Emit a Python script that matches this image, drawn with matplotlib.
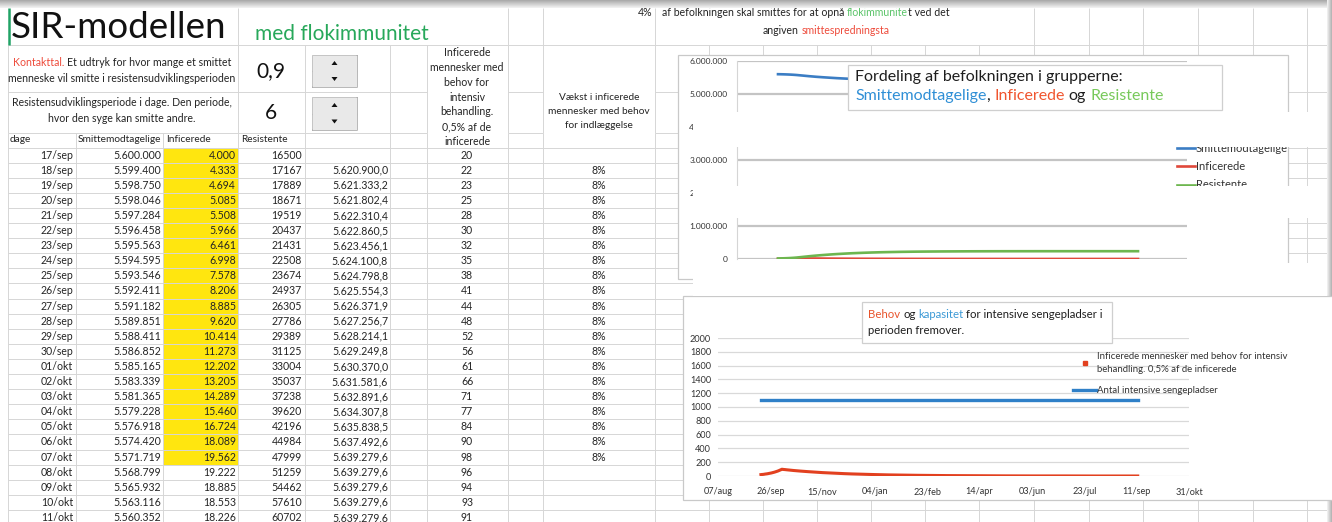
import datetime as dt
import numpy as np
import matplotlib
matplotlib.use('Agg')
import matplotlib.pyplot as plt
from matplotlib.patches import Rectangle, Polygon
from matplotlib.lines import Line2D
from matplotlib.ticker import FuncFormatter

plt.rcParams['font.family'] = ['Lato', 'DejaVu Sans']

W, H, DPI = 1332, 522, 100

# ---------------- table data (read from the sheet) ----------------
dage = ['17/sep', '18/sep', '19/sep', '20/sep', '21/sep', '22/sep', '23/sep', '24/sep',
        '25/sep', '26/sep', '27/sep', '28/sep', '29/sep', '30/sep', '01/okt', '02/okt',
        '03/okt', '04/okt', '05/okt', '06/okt', '07/okt', '08/okt', '09/okt', '10/okt', '11/okt']
smittemodtagelige = [5600000, 5599400, 5598750, 5598046, 5597284, 5596458, 5595563, 5594595,
                     5593546, 5592411, 5591182, 5589851, 5588411, 5586852, 5585165, 5583339,
                     5581365, 5579228, 5576918, 5574420, 5571719, 5568799, 5565932, 5563116, 5560352]
inficerede = [4000, 4333, 4694, 5085, 5508, 5966, 6461, 6998, 7578, 8206, 8885, 9620, 10414,
              11273, 12202, 13205, 14289, 15460, 16724, 18089, 19562, 19222, 18885, 18553, 18226]
resistente = [16500, 17167, 17889, 18671, 19519, 20437, 21431, 22508, 23674, 24937, 26305,
              27786, 29389, 31125, 33004, 35037, 37238, 39620, 42196, 44984, 47999, 51259,
              54462, 57610, 60702]
total = [None, 5620900.0, 5621333.2, 5621802.4, 5622310.4, 5622860.5, 5623456.1, 5624100.8,
         5624798.8, 5625554.3, 5626371.9, 5627256.7, 5628214.1, 5629249.8, 5630370.0,
         5631581.6, 5632891.6, 5634307.8, 5635838.5, 5637492.6, 5639279.6, 5639279.6,
         5639279.6, 5639279.6, 5639279.6]
intensiv = [20, 22, 23, 25, 28, 30, 32, 35, 38, 41, 44, 48, 52, 56, 61, 66, 71, 77, 84, 90,
            98, 96, 94, 93, 91]
vaekst = ['', '8%', '8%', '8%', '8%', '8%', '8%', '8%', '8%', '8%', '8%', '8%', '8%', '8%',
          '8%', '8%', '8%', '8%', '8%', '8%', '8%', '', '', '', '']

# ---------------- chart data beyond the table ----------------
extra_dates = ['2020-10-18', '2020-10-25', '2020-11-01', '2020-11-08', '2020-11-15',
               '2020-11-22', '2020-11-29', '2020-12-06', '2020-12-13', '2020-12-20',
               '2020-12-27', '2021-01-03', '2021-01-17', '2021-01-31', '2021-02-14',
               '2021-02-28', '2021-03-14', '2021-03-28', '2021-04-11', '2021-04-25',
               '2021-05-09', '2021-06-06', '2021-07-04', '2021-08-01', '2021-08-29', '2021-09-12']
intensiv_extra = [80, 71, 63, 56, 49, 44, 39, 34, 30, 27, 24, 21, 16, 13, 10, 8, 6, 5, 4, 3,
                  2, 1, 1, 0, 0, 0]
inficerede_extra = [16000, 14200, 12600, 11200, 9800, 8800, 7800, 6800, 6000, 5400, 4800, 4200,
                    3200, 2600, 2000, 1600, 1200, 1000, 800, 600, 400, 200, 200, 0, 0, 0]
resistente_extra = [83000, 103000, 120000, 136000, 150000, 162000, 173000, 182000, 190000,
                    197000, 203000, 208000, 216000, 222000, 226000, 229000, 231000, 233000,
                    234000, 235000, 235500, 236000, 236000, 236000, 236000, 236000]
smittemodt_extra = [5540000, 5522000, 5507000, 5493000, 5480000, 5469000, 5459000, 5451000,
                    5444000, 5438000, 5432000, 5428000, 5421000, 5415000, 5412000, 5409000,
                    5408000, 5406000, 5405000, 5404000, 5404000, 5404000, 5404000, 5404000,
                    5404000, 5404000]
kapasitet_dates = ['2020-09-17', '2021-09-12']
kapasitet = [1100, 1100]
x_range = ['2020-08-07', '2021-10-31']
x_tick_labels = ['07/aug', '26/sep', '15/nov', '04/jan', '23/feb', '14/apr', '03/jun',
                 '23/jul', '11/sep', '31/okt']

# ---------------- helpers ----------------
MONTHS = {'aug': 8, 'sep': 9, 'okt': 10, 'nov': 11, 'dec': 12}
table_dates = [dt.date(2020, MONTHS[d[3:]], int(d[:2])) for d in dage]
extra_d = [dt.date.fromisoformat(s) for s in extra_dates]
dates_all = table_dates + extra_d
S_all = smittemodtagelige + smittemodt_extra
I_all = inficerede + inficerede_extra
R_all = resistente + resistente_extra
ICU_all = intensiv + intensiv_extra
kap_d = [dt.date.fromisoformat(s) for s in kapasitet_dates]
x0d, x1d = [dt.date.fromisoformat(s) for s in x_range]
tick_dates = [x0d + dt.timedelta(days=50 * i) for i in range(len(x_tick_labels))]


def fmt_int(v):
    return f"{v:,}".replace(',', '.')


def fmt_dec(v):
    return f"{v:,.1f}".replace(',', 'X').replace('.', ',').replace('X', '.')


DARK = '#242424'
GRID = '#d6d6d6'
BLUE = '#3b7dc4'
RED = '#e0483a'
GREEN = '#6db64f'
SMALL = 7.6
TFS = 7.6

fig = plt.figure(figsize=(W / DPI, H / DPI), dpi=DPI)
fig.patch.set_facecolor('white')
bg = fig.add_axes([0, 0, 1, 1], zorder=0)
bg.set_xlim(0, W)
bg.set_ylim(H, 0)
bg.axis('off')
renderer = fig.canvas.get_renderer()


def text_w(ax, s, **kw):
    t = ax.text(0, 0, s, **kw)
    w = t.get_window_extent(renderer).width
    t.remove()
    return w


def rich(ax, x, y, parts, ha='left', fontsize=7, **kw):
    full = ''.join(s for s, _ in parts)
    ref = text_w(ax, 'x', fontsize=fontsize, **kw)

    def adv(prefix):
        return text_w(ax, prefix + 'x', fontsize=fontsize, **kw) - ref if prefix else 0.0

    tot = text_w(ax, full, fontsize=fontsize, **kw)
    xx = {'left': x, 'center': x - tot / 2, 'right': x - tot}[ha]
    pos = 0
    for s, c in parts:
        lead = len(s) - len(s.lstrip(' '))
        ax.text(xx + adv(full[:pos + lead]), y, s.strip(' '), color=c, fontsize=fontsize,
                ha='left', va='center', **kw)
        pos += len(s)


def vline(x, y0, y1, color=GRID, lw=0.7, ax=bg):
    ax.plot([x, x], [y0, y1], color=color, lw=lw, solid_capstyle='butt')


def hline(y, x0, x1, color=GRID, lw=0.7, ax=bg):
    ax.plot([x0, x1], [y, y], color=color, lw=lw, solid_capstyle='butt')


# ---------------- spreadsheet grid ----------------
ROW0 = 147.5
ROWH = 15.1
right_cols = [709, 763, 817, 871, 925, 979, 1034, 1089, 1143, 1198, 1253, 1307]
for x in [238, 508, 543, 655, 1034, 1089, 1143, 1198, 1253, 1307]:
    vline(x, 8, 45)
for x in [8, 238, 305, 390, 427, 508, 543, 655] + right_cols:
    vline(x, 45, 133)
for x in [8, 76, 163, 238, 305, 390, 427, 508, 543, 655] + right_cols:
    vline(x, 133, H)
hline(45, 8, W - 4)
for y in (92, 133):
    hline(y, 8, 427)
    hline(y, 508, 543)
    hline(y, 655, W - 4)
k = 0
while ROW0 + k * ROWH < H:
    hline(ROW0 + k * ROWH, 8, W - 4)
    k += 1

# yellow column
bg.add_patch(Rectangle((163, ROW0), 75, ROWH * 21, facecolor='#ffe60f', edgecolor='none', zorder=1))

# shadows
top = np.linspace(0.66, 0.95, 20)[:, None]
bg.imshow(np.repeat(top, 2, axis=1), cmap='gray', vmin=0, vmax=1, extent=(0, W, 8, 0),
          aspect='auto', zorder=5)
side = np.linspace(0.95, 0.70, 10)[None, :]
bg.imshow(side, cmap='gray', vmin=0, vmax=1, extent=(W - 5, W, H, 0), aspect='auto', zorder=5)
bg.set_xlim(0, W)
bg.set_ylim(H, 0)
vline(8.5, 8, 45, color='#21a366', lw=1.8)

# ---------------- title texts ----------------
bg.text(11, 27, 'SIR-modellen', fontsize=26.5, color='#111111', va='center', ha='left')
bg.text(255, 34, 'med flokimmunitet', fontsize=15, color='#27a85a', va='center', ha='left')
bg.text(652, 12, '4%', fontsize=SMALL, color=DARK, ha='right', va='center')
rich(bg, 662, 12, [('af befolkningen skal smittes for at opnå ', DARK), ('flokimmunite', '#5cc46a'),
                   ('t ved det', DARK)], ha='left', fontsize=SMALL)
rich(bg, 826, 30, [('angiven ', DARK), ('smittespredningsta', '#ee4b3b')], ha='center',
     fontsize=SMALL)

# description cells
rich(bg, 122, 63, [('Kontakttal.', '#ee4b3b'), (' Et udtryk for hvor mange et smittet', DARK)],
     ha='center', fontsize=SMALL)
bg.text(122, 78, 'menneske vil smitte i resistensudviklingsperioden', fontsize=SMALL, color=DARK,
        ha='center', va='center')
bg.text(122, 103, 'Resistensudviklingsperiode i dage. Den periode,', fontsize=SMALL, color=DARK,
        ha='center', va='center')
bg.text(122, 118, 'hvor den syge kan smitte andre.', fontsize=SMALL, color=DARK,
        ha='center', va='center')
bg.text(271, 71, '0,9', fontsize=15, color='#111111', ha='center', va='center')
bg.text(271, 113, '6', fontsize=15, color='#111111', ha='center', va='center')


def spinner(y0, y1):
    x0, x1 = 312, 357
    ym = (y0 + y1) / 2
    bg.add_patch(Rectangle((x0, y0), x1 - x0, y1 - y0, facecolor='#e9e9e9', edgecolor='#bdbdbd',
                           lw=0.6, zorder=3))
    hline(ym, x0, x1, color='#555555', lw=1.0)
    hline(y1, x0, x1, color='#444444', lw=1.2)
    vline(x1, y0, y1, color='#444444', lw=1.2)
    cx = (x0 + x1) / 2
    bg.add_patch(Polygon([[cx - 3, y0 + 10], [cx + 3, y0 + 10], [cx, y0 + 6]], closed=True,
                         facecolor='#111111', edgecolor='none', zorder=4))
    bg.add_patch(Polygon([[cx - 3, ym + 6], [cx + 3, ym + 6], [cx, ym + 10]], closed=True,
                         facecolor='#111111', edgecolor='none', zorder=4))


spinner(55, 87)
spinner(97, 130)

# column header with stacked lines
icu_head = ['Inficerede', 'mennesker med', 'behov for', 'intensiv', 'behandling.', '0,5% af de',
            'inficerede']
for i, s in enumerate(icu_head):
    bg.text(467, 53 + 14.7 * i, s, fontsize=SMALL, color=DARK, ha='center', va='center')
for i, s in enumerate(['Vækst i inficerede', 'mennesker med behov', 'for indlæggelse']):
    bg.text(599, 97 + 14 * i, s, fontsize=7.3, color=DARK, ha='center', va='center')

for x, s in [(10, 'dage'), (78, 'Smittemodtagelige'), (166, 'Inficerede'), (241, 'Resistente')]:
    bg.text(x, 140, s, fontsize=7.3, color=DARK, ha='left', va='center')

for i in range(len(dage)):
    y = ROW0 + ROWH * (i + 0.5)
    bg.text(73, y, dage[i], fontsize=TFS, color=DARK, ha='right', va='center', zorder=3)
    bg.text(161, y, fmt_int(smittemodtagelige[i]), fontsize=TFS, color=DARK, ha='right',
            va='center', zorder=3)
    bg.text(236, y, fmt_int(inficerede[i]), fontsize=TFS, color=DARK, ha='right', va='center',
            zorder=3)
    bg.text(302, y, str(resistente[i]), fontsize=TFS, color=DARK, ha='right', va='center', zorder=3)
    if total[i] is not None:
        bg.text(388, y, fmt_dec(total[i]), fontsize=TFS, color=DARK, ha='right', va='center',
                zorder=3)
    bg.text(467, y, str(intensiv[i]), fontsize=TFS, color=DARK, ha='center', va='center', zorder=3)
    if vaekst[i]:
        bg.text(599, y, vaekst[i], fontsize=TFS, color=DARK, ha='center', va='center', zorder=3)

# chart frames
bg.add_patch(Rectangle((678, 55), 610, 224, facecolor='white', edgecolor='#c9c9c9', lw=0.9,
                       zorder=6))
bg.add_patch(Rectangle((683, 296), 700, 204, facecolor='white', edgecolor='#c9c9c9', lw=0.9,
                       zorder=6))

# ---------------- top chart ----------------
ax1 = fig.add_axes([737 / W, 1 - 259 / H, 450 / W, 198 / H], zorder=2)
ax1.patch.set_alpha(0)
ax1.plot(dates_all, S_all, color=BLUE, lw=1.9, label='Smittemodtagelige')
ax1.plot(dates_all, I_all, color=RED, lw=1.9, label='Inficerede')
ax1.plot(dates_all, R_all, color=GREEN, lw=1.9, label='Resistente')
ax1.set_xlim(x0d, x1d)
ax1.set_ylim(0, 6e6)
ax1.set_yticks(np.arange(0, 6e6 + 1, 1e6))
ax1.yaxis.set_major_formatter(FuncFormatter(lambda v, p: fmt_int(int(v))))
ax1.set_xticks([])
ax1.grid(axis='y', color='#c4c4c4', lw=1.6)
ax1.set_axisbelow(True)
ax1.tick_params(axis='y', length=0, pad=7, labelsize=6.0, labelcolor='#333333')
for s in ['top', 'right', 'bottom']:
    ax1.spines[s].set_visible(False)
ax1.spines['left'].set_color('#d5d5d5')
ax1.legend(loc='upper left', bbox_to_anchor=(1177 / W, 1 - 143 / H), bbox_transform=fig.transFigure,
           frameon=False, fontsize=8.0, handlelength=1.6, handletextpad=0.1, labelspacing=0.65,
           borderpad=0, borderaxespad=0, labelcolor='#333333')

# ---------------- bottom chart ----------------
ax2 = fig.add_axes([718 / W, 1 - 476 / H, 471 / W, 138 / H], zorder=2)
ax2.patch.set_alpha(0)
ax2.plot(dates_all, ICU_all, color='#e2401f', lw=2.2)
ax2.plot(kap_d, kapasitet, color='#2f80c8', lw=2.4)
ax2.set_xlim(x0d, x1d)
ax2.set_ylim(0, 2000)
ax2.set_yticks(np.arange(0, 2001, 200))
ax2.set_xticks(tick_dates)
ax2.set_xticklabels(x_tick_labels)
ax2.grid(axis='y', color='#d9d9d9', lw=0.9)
ax2.set_axisbelow(True)
ax2.tick_params(length=0, labelsize=6.6, labelcolor='#333333')
ax2.tick_params(axis='x', pad=8)
ax2.tick_params(axis='y', pad=5)
for s in ax2.spines.values():
    s.set_visible(False)
h_icu = Line2D([0], [0], color='#e2401f', marker='s', markersize=2.2, lw=0)
h_kap = Line2D([0], [0], color='#2f80c8', lw=2.4)
leg2 = ax2.legend([h_icu, h_kap],
                  ['Inficerede mennesker med behov for intensiv\nbehandling. 0,5% af de inficerede',
                   'Antal intensive sengepladser'],
                  loc='upper left', bbox_to_anchor=(1073 / W, 1 - 352 / H),
                  bbox_transform=fig.transFigure, frameon=False, fontsize=6.9, handlelength=2.4,
                  handletextpad=0.15, labelspacing=1.35, borderpad=0, borderaxespad=0,
                  labelcolor='#333333')
for t in leg2.get_texts():
    t.set_linespacing(1.5)

# ---------------- overlay: covering strips and chart titles ----------------
ov = fig.add_axes([0, 0, 1, 1], zorder=10)
ov.set_xlim(0, W)
ov.set_ylim(H, 0)
ov.axis('off')
ov.patch.set_alpha(0)
for y0, y1 in [(112, 147), (186, 218), (263, 296)]:
    ov.add_patch(Rectangle((693, y0), W - 5 - 693, y1 - y0, facecolor='white', edgecolor='none'))

ov.add_patch(Rectangle((848, 65), 374, 45, facecolor='white', edgecolor='#cfcfcf', lw=0.9))
rich(ov, 855, 77, [('Fordeling af befolkningen i grupperne:', '#1e1e1e')], fontsize=11.5)
rich(ov, 855, 96, [('Smittemodtagelige', '#2f8fd6'), (', ', '#1e1e1e'), ('Inficerede', '#f0552f'),
                   (' og ', '#1e1e1e'), ('Resistente', '#77c95a')], fontsize=11.5)

ov.add_patch(Rectangle((862, 302), 250, 41, facecolor='white', edgecolor='#cfcfcf', lw=0.9))
rich(ov, 868, 314, [('Behov', '#e8542c'), (' og ', '#1e1e1e'), ('kapasitet', '#3d9ad6'),
                    (' for intensive sengepladser i', '#1e1e1e')], fontsize=8.2)
rich(ov, 868, 331, [('perioden fremover.', '#1e1e1e')], fontsize=8.2)

fig.savefig('out.png', dpi=DPI)
